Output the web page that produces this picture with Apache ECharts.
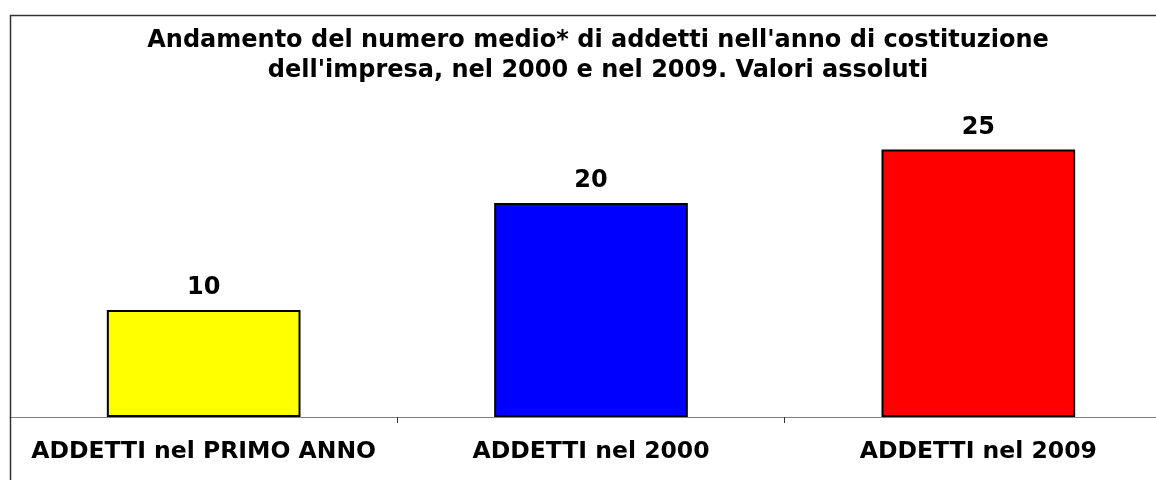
<!DOCTYPE html>
<html>
<head>
<meta charset="utf-8">
<script src="https://cdn.jsdelivr.net/npm/echarts@6/dist/echarts.min.js"></script>
<style>
html,body{margin:0;padding:0;background:#fff;overflow:hidden;}
#chart{width:1200px;height:480px;}
</style>
</head>
<body>
<div id="chart"></div>
<script>
const titleLines = ["Andamento del numero medio* di addetti nell'anno di costituzione", "dell'impresa, nel 2000 e nel 2009. Valori assoluti"];
const categories = ["ADDETTI nel PRIMO ANNO", "ADDETTI nel 2000", "ADDETTI nel 2009"];
const values = [10, 20, 25];
const barColors = ["#FFFF00", "#0000FF", "#FF0000"];

const chart = echarts.init(document.getElementById('chart'), null, {renderer: 'canvas'});
const font = "'DejaVu Sans', Verdana, sans-serif";
chart.setOption({
  backgroundColor: '#ffffff',
  animation: false,
  title: {
    text: titleLines.join('\n'),
    left: 593,
    top: 21,
    textAlign: 'center',
    textStyle: {fontFamily: font, fontWeight: 'bold', fontSize: 24, lineHeight: 30, color: '#000'}
  },
  graphic: [{
    type: 'rect',
    shape: {x: 10.5, y: 15.5, width: 1300, height: 600},
    style: {fill: 'none', stroke: '#333', lineWidth: 1.5},
    silent: true,
    z: 100
  }],
  grid: {left: 10, top: 96, width: 1162, height: 321, containLabel: false},
  xAxis: {
    type: 'category',
    data: categories,
    axisLine: {lineStyle: {color: '#808080', width: 1}},
    axisTick: {show: true, alignWithLabel: false, length: 6, lineStyle: {color: '#333'}},
    axisLabel: {fontFamily: font, fontWeight: 'bold', fontSize: 23.5, color: '#000', margin: 23, interval: 0}
  },
  yAxis: {
    type: 'value', min: 0, max: 30, show: false,
    splitLine: {show: false}
  },
  series: [{
    type: 'bar',
    barWidth: '50%',
    data: values.map((v, i) => ({value: v, itemStyle: {color: barColors[i]}})),
    itemStyle: {borderColor: '#000', borderWidth: 2},
    label: {show: true, position: 'top', distance: 10, fontFamily: font, fontWeight: 'bold', fontSize: 24, color: '#000'}
  }]
});
</script>
</body>
</html>
